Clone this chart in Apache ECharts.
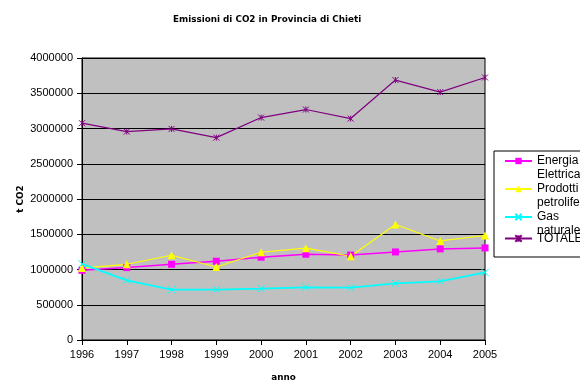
<!DOCTYPE html>
<html>
<head>
<meta charset="utf-8">
<script src="https://cdn.jsdelivr.net/npm/echarts@6/dist/echarts.min.js"></script>
<style>
  html, body { margin: 0; padding: 0; background: #ffffff; }
  #chart { width: 580px; height: 380px; }
</style>
</head>
<body>
<div id="chart"></div>
<script>
// Annual CO2 emissions (tonnes) by source, Province of Chieti
const anni = ['1996', '1997', '1998', '1999', '2000', '2001', '2002', '2003', '2004', '2005'];
const energiaElettrica = [988000, 1027000, 1074000, 1117000, 1174000, 1216000, 1205000, 1249000, 1292000, 1306000];
const prodottiPetroliferi = [1020000, 1074000, 1202000, 1036000, 1245000, 1302000, 1188000, 1639000, 1405000, 1482000];
const gasNaturale = [1080000, 846000, 714000, 714000, 728000, 747000, 742000, 804000, 832000, 958000];
const totale = [3075000, 2956000, 2994000, 2871000, 3155000, 3269000, 3141000, 3687000, 3516000, 3724000];

const nomiSerie = ['Energia\nElettrica', 'Prodotti\npetroliferi', 'Gas\nnaturale', 'TOTALE'];

const titleFont = { fontFamily: 'DejaVu Sans', fontWeight: 'bold', fontSize: 8.8, color: '#000' };
const axisFont = { fontFamily: 'Liberation Sans', fontSize: 11, color: '#000' };

const X_SYMBOL = 'path://M0,0L10,10M10,0L0,10';
const STAR_SYMBOL = 'path://M0,0L10,10M10,0L0,10M5,0L5,10';

function lineSeries(name, data, color, symbol, size, stroked, width) {
  return {
    name: name,
    type: 'line',
    data: data,
    symbol: symbol,
    symbolSize: size,
    showAllSymbol: true,
    lineStyle: { color: color, width: width },
    itemStyle: stroked
      ? { color: 'none', borderColor: color, borderWidth: 1 }
      : { color: color, borderColor: color, borderWidth: 0 },
    emphasis: { disabled: true },
    animation: false
  };
}

// Legend entries: the marker sits on the first text line, wrapped words continue below it
function legendLabel(name) {
  if (name.indexOf('\n') < 0) {
    return '{h| }\n{t|' + name + '}\n{h| }';
  }
  const parts = name.split('\n');
  return '{s| }\n{t|' + parts[0] + '}\n{t|' + parts[1] + '}';
}

const chart = echarts.init(document.getElementById('chart'), null, { renderer: 'canvas' });
chart.setOption({
  backgroundColor: '#ffffff',
  animation: false,
  title: {
    text: 'Emissioni di CO2 in Provincia di Chieti',
    left: 173,
    top: 15,
    padding: 0,
    textStyle: titleFont
  },
  grid: {
    left: 82,
    right: 95,
    top: 58,
    bottom: 40,
    outerBoundsMode: 'none',
    containLabel: false,
    show: true,
    backgroundColor: '#C0C0C0',
    borderColor: '#000',
    borderWidth: 1
  },
  legend: {
    orient: 'vertical',
    left: 494,
    top: 151,
    padding: [-10, 10, 5, 10],
    itemWidth: 27,
    itemHeight: 8,
    itemGap: -12,
    backgroundColor: '#ffffff',
    borderColor: '#000',
    borderWidth: 1,
    borderRadius: 0,
    selectedMode: false,
    formatter: legendLabel,
    textStyle: {
      fontFamily: 'Liberation Sans',
      fontSize: 12,
      color: '#000',
      rich: {
        t: { fontFamily: 'Liberation Sans', fontSize: 12, lineHeight: 14, color: '#000' },
        s: { fontSize: 12, lineHeight: 14 },
        h: { fontSize: 6, lineHeight: 7 }
      }
    },
    data: nomiSerie
  },
  xAxis: {
    type: 'category',
    data: anni,
    boundaryGap: false,
    name: 'anno',
    nameLocation: 'middle',
    nameGap: 33,
    nameMoveOverlap: false,
    nameTextStyle: titleFont,
    axisLine: { lineStyle: { color: '#000', width: 1 } },
    axisTick: { show: true, length: 5, lineStyle: { color: '#000' } },
    axisLabel: Object.assign({ margin: 9, interval: 0 }, axisFont),
    splitLine: { show: false }
  },
  yAxis: {
    type: 'value',
    min: 0,
    max: 4000000,
    interval: 500000,
    name: 't CO2',
    nameLocation: 'middle',
    nameGap: 57,
    nameMoveOverlap: false,
    nameTextStyle: titleFont,
    axisLine: { show: true, lineStyle: { color: '#000', width: 1 } },
    axisTick: { show: true, length: 5, lineStyle: { color: '#000' } },
    axisLabel: Object.assign({ margin: 9, formatter: function (v) { return String(v); } }, axisFont),
    splitLine: { show: true, lineStyle: { color: '#000', width: 1 } }
  },
  series: [
    lineSeries(nomiSerie[0], energiaElettrica, '#FF00FF', 'rect', 7, false, 1.5),
    lineSeries(nomiSerie[1], prodottiPetroliferi, '#FFFF00', 'triangle', 8, false, 1.2),
    lineSeries(nomiSerie[2], gasNaturale, '#00FFFF', X_SYMBOL, 7, true, 1.8),
    lineSeries(nomiSerie[3], totale, '#800080', STAR_SYMBOL, 6, true, 1.2)
  ]
});
</script>
</body>
</html>
